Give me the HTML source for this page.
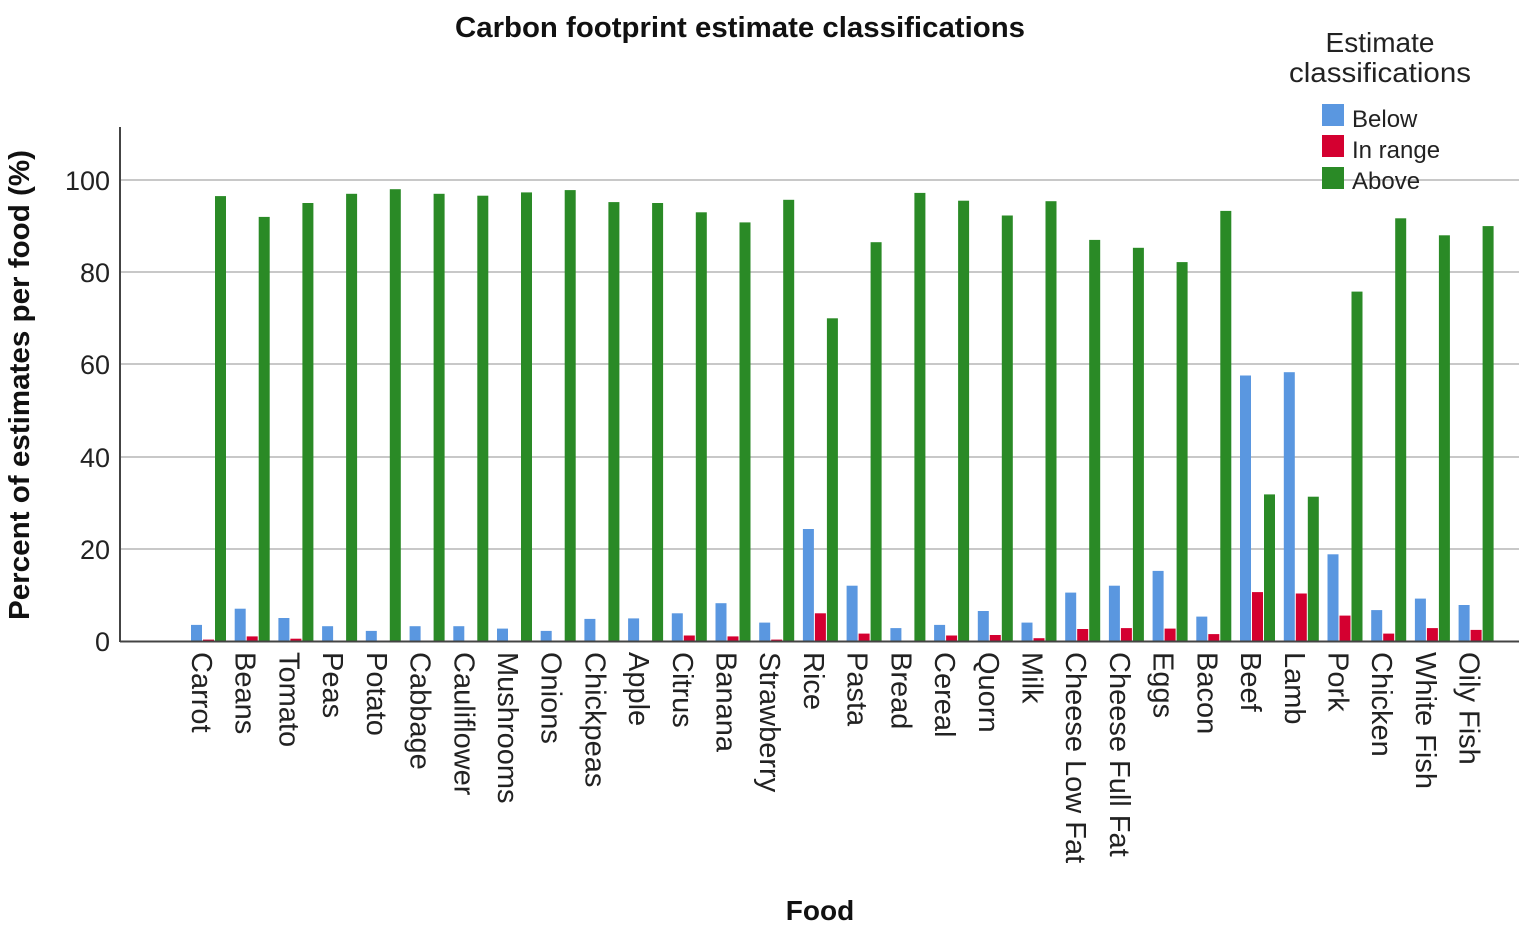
<!DOCTYPE html>
<html><head><meta charset="utf-8"><style>
body{margin:0;background:#fff}
svg text{font-family:"Liberation Sans",Arial,sans-serif}
</style></head><body>
<svg id="s" width="1535" height="937" xmlns="http://www.w3.org/2000/svg">
<rect width="1535" height="937" fill="#fff"/>
<g stroke="#c8c8c8" stroke-width="2">
<line x1="121" x2="1519" y1="180" y2="180"/>
<line x1="121" x2="1519" y1="272" y2="272"/>
<line x1="121" x2="1519" y1="364" y2="364"/>
<line x1="121" x2="1519" y1="457" y2="457"/>
<line x1="121" x2="1519" y1="549" y2="549"/>
</g>
<g id="bars"></g>
<line x1="120" x2="120" y1="127" y2="642" stroke="#444" stroke-width="2"/>
<line x1="120" x2="1519" y1="641.5" y2="641.5" stroke="#444" stroke-width="2"/>
<g font-size="27" fill="#222" text-anchor="end">
<text x="110" y="190">100</text><text x="110" y="282">80</text><text x="110" y="374">60</text>
<text x="110" y="467">40</text><text x="110" y="559">20</text><text x="110" y="651">0</text>
</g>
<text x="740" y="37" font-size="29" font-weight="bold" text-anchor="middle" fill="#111" textLength="570" lengthAdjust="spacingAndGlyphs">Carbon footprint estimate classifications</text>
<text x="820" y="920" font-size="28" font-weight="bold" text-anchor="middle" fill="#111">Food</text>
<text transform="translate(29,385) rotate(-90)" font-size="29" font-weight="bold" text-anchor="middle" fill="#111" textLength="470" lengthAdjust="spacingAndGlyphs">Percent of estimates per food (%)</text>
<g font-size="28" fill="#222" text-anchor="middle">
<text x="1380" y="52">Estimate</text><text x="1380" y="82" textLength="182" lengthAdjust="spacingAndGlyphs">classifications</text>
</g>
<rect x="1322" y="104" width="22" height="22" fill="#5a97e0"/>
<rect x="1322" y="135" width="22" height="22" fill="#d40030"/>
<rect x="1322" y="167" width="22" height="22" fill="#2a8a26"/>
<g font-size="24" fill="#222">
<text x="1352" y="127">Below</text><text x="1352" y="158">In range</text><text x="1352" y="189">Above</text>
</g>
<g font-size="29" fill="#222" id="labels">
<text transform="translate(202,652) rotate(90)" dy="10">Carrot</text>
<text transform="translate(245.7,652) rotate(90)" dy="10">Beans</text>
<text transform="translate(289.4,652) rotate(90)" dy="10">Tomato</text>
<text transform="translate(333.1,652) rotate(90)" dy="10">Peas</text>
<text transform="translate(376.8,652) rotate(90)" dy="10">Potato</text>
<text transform="translate(420.6,652) rotate(90)" dy="10">Cabbage</text>
<text transform="translate(464.3,652) rotate(90)" dy="10">Cauliflower</text>
<text transform="translate(508,652) rotate(90)" dy="10">Mushrooms</text>
<text transform="translate(551.7,652) rotate(90)" dy="10">Onions</text>
<text transform="translate(595.4,652) rotate(90)" dy="10">Chickpeas</text>
<text transform="translate(639.1,652) rotate(90)" dy="10">Apple</text>
<text transform="translate(682.8,652) rotate(90)" dy="10">Citrus</text>
<text transform="translate(726.5,652) rotate(90)" dy="10">Banana</text>
<text transform="translate(770.2,652) rotate(90)" dy="10">Strawberry</text>
<text transform="translate(813.9,652) rotate(90)" dy="10">Rice</text>
<text transform="translate(857.7,652) rotate(90)" dy="10">Pasta</text>
<text transform="translate(901.4,652) rotate(90)" dy="10">Bread</text>
<text transform="translate(945.1,652) rotate(90)" dy="10">Cereal</text>
<text transform="translate(988.8,652) rotate(90)" dy="10">Quorn</text>
<text transform="translate(1032.5,652) rotate(90)" dy="10">Milk</text>
<text transform="translate(1076.2,652) rotate(90)" dy="10">Cheese Low Fat</text>
<text transform="translate(1119.9,652) rotate(90)" dy="10">Cheese Full Fat</text>
<text transform="translate(1163.6,652) rotate(90)" dy="10">Eggs</text>
<text transform="translate(1207.3,652) rotate(90)" dy="10">Bacon</text>
<text transform="translate(1251,652) rotate(90)" dy="10">Beef</text>
<text transform="translate(1294.8,652) rotate(90)" dy="10">Lamb</text>
<text transform="translate(1338.5,652) rotate(90)" dy="10">Pork</text>
<text transform="translate(1382.2,652) rotate(90)" dy="10">Chicken</text>
<text transform="translate(1425.9,652) rotate(90)" dy="10">White Fish</text>
<text transform="translate(1469.6,652) rotate(90)" dy="10">Oily Fish</text>
</g>
</svg>
<script>
var d=[[3.5,.3,96.5],[7,1,92],[5,.5,95],[3.2,0,97],[2.2,0,98],[3.2,0,97],[3.2,0,96.6],[2.7,0,97.3],[2.2,0,97.8],[4.8,0,95.2],[4.9,0,95],[6,1.2,93],[8.2,1,90.8],[4,.3,95.7],[24.3,6,70],[12,1.6,86.5],[2.8,0,97.2],[3.5,1.2,95.5],[6.5,1.3,92.3],[4,.6,95.4],[10.5,2.6,87],[12,2.8,85.3],[15.2,2.7,82.2],[5.3,1.5,93.3],[57.6,10.6,31.8],[58.3,10.3,31.3],[18.8,5.5,75.8],[6.7,1.6,91.7],[9.2,2.8,88],[7.8,2.4,90]];
var c=["#5a97e0","#d40030","#2a8a26"],g=document.getElementById("bars"),h="";
d.forEach(function(r,i){r.forEach(function(v,j){if(v<=0)return;var hh=v*4.61,x=191+43.71*i+12*j;
h+='<rect x="'+x.toFixed(1)+'" y="'+(641-hh).toFixed(1)+'" width="11" height="'+hh.toFixed(1)+'" fill="'+c[j]+'"/>';});});
g.innerHTML=h;
</script>
</body></html>
